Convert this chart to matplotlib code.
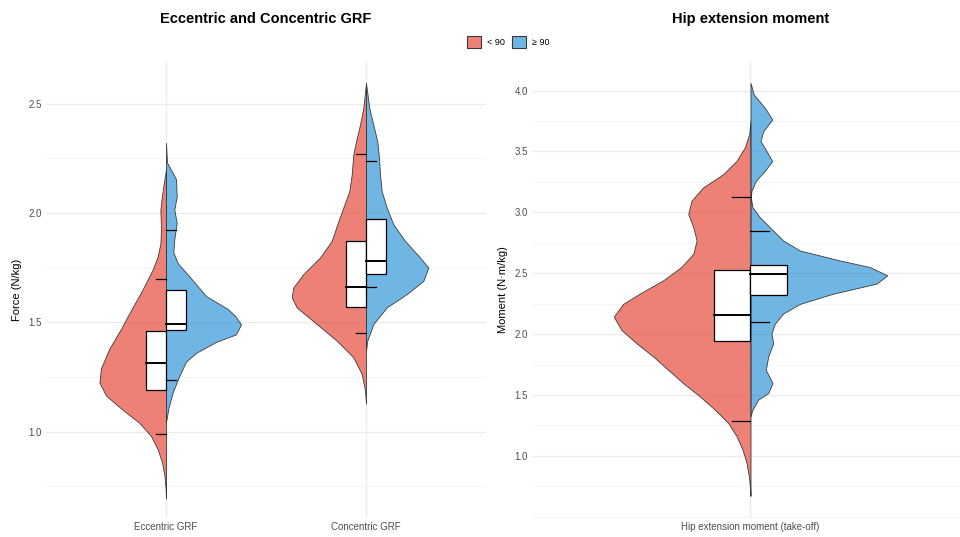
import matplotlib
matplotlib.use("Agg")
import matplotlib.pyplot as plt
from matplotlib.patches import Patch, Rectangle
from matplotlib.ticker import MultipleLocator, FixedLocator
from matplotlib.colors import to_rgba

plt.rcParams['font.family'] = ['Liberation Sans', 'DejaVu Sans']

# --- data (density outlines = half-widths in x units) ---
grf_labels = ['Eccentric GRF', 'Concentric GRF']
hip_labels = ['Hip extension moment (take-off)']

ecc_lo_y = [0.695, 0.74, 0.80, 0.86, 0.92, 0.98, 1.04, 1.10, 1.165, 1.225, 1.29, 1.38,
            1.47, 1.53, 1.65, 1.74, 1.80, 1.86, 1.925, 2.015, 2.08, 2.14, 2.20]
ecc_lo_w = [0, 0.002, 0.008, 0.02, 0.042, 0.075, 0.133, 0.217, 0.30, 0.333, 0.325, 0.283,
            0.225, 0.19, 0.117, 0.067, 0.042, 0.028, 0.025, 0.028, 0.02, 0.01, 0]
ecc_hi_y = [1.045, 1.06, 1.105, 1.18, 1.255, 1.32, 1.36, 1.41, 1.445, 1.49, 1.53, 1.56,
            1.62, 1.71, 1.77, 1.82, 1.88, 1.955, 2.015, 2.075, 2.155, 2.23, 2.32]
ecc_hi_w = [0, 0.0035, 0.0115, 0.0335, 0.0665, 0.10, 0.15, 0.25, 0.35, 0.375, 0.345, 0.31,
            0.20, 0.1165, 0.0585, 0.0365, 0.0415, 0.0535, 0.0415, 0.0535, 0.05, 0.005, 0]

con_lo_y = [1.128, 1.188, 1.264, 1.340, 1.416, 1.492, 1.568, 1.614, 1.659, 1.720, 1.796,
            1.872, 1.948, 2.024, 2.099, 2.175, 2.267, 2.327, 2.403, 2.479, 2.593]
con_lo_w = [0, 0.005, 0.0215, 0.0635, 0.1465, 0.2465, 0.3465, 0.3715, 0.3635, 0.3135, 0.23,
            0.1715, 0.1435, 0.1135, 0.0835, 0.0715, 0.0635, 0.05, 0.03, 0.0135, 0]
con_hi_y = [1.370, 1.416, 1.492, 1.568, 1.629, 1.689, 1.750, 1.796, 1.872, 1.948, 2.024,
            2.099, 2.175, 2.251, 2.327, 2.403, 2.479, 2.593]
con_hi_w = [0, 0.0065, 0.0365, 0.1035, 0.2035, 0.2865, 0.3115, 0.27, 0.195, 0.1365, 0.1035,
            0.0785, 0.07, 0.065, 0.0565, 0.0365, 0.0165, 0]

hip_lo_y = [0.672, 0.726, 0.836, 0.944, 1.053, 1.163, 1.271, 1.380, 1.489, 1.598, 1.707,
            1.816, 1.925, 2.033, 2.143, 2.248, 2.333, 2.442, 2.551, 2.660, 2.769, 2.878,
            2.987, 3.096, 3.205, 3.314, 3.422, 3.532, 3.641, 3.749]
hip_lo_w = [0, 0.0008, 0.0047, 0.011, 0.022, 0.0385, 0.0613, 0.098, 0.139, 0.185, 0.226,
            0.267, 0.313, 0.354, 0.3755, 0.35, 0.304, 0.24, 0.19, 0.157, 0.148, 0.157,
            0.171, 0.162, 0.13, 0.075, 0.0385, 0.0157, 0.0036, 0]
hip_hi_y = [1.326, 1.380, 1.462, 1.516, 1.598, 1.707, 1.816, 1.925, 2.007, 2.085, 2.170,
            2.248, 2.333, 2.415, 2.483, 2.551, 2.605, 2.687, 2.769, 2.850, 2.960, 3.042,
            3.123, 3.177, 3.259, 3.341, 3.422, 3.504, 3.586, 3.667, 3.763, 3.859, 3.967, 4.063]
hip_hi_w = [0, 0.0055, 0.021, 0.0486, 0.0604, 0.042, 0.0486, 0.0624, 0.0577, 0.0668, 0.0898,
            0.1354, 0.2272, 0.3462, 0.3755, 0.3277, 0.2453, 0.1354, 0.0898, 0.0624, 0.0255,
            0.0055, 0.0008, 0.0027, 0.0146, 0.0393, 0.0596, 0.044, 0.0275, 0.0349, 0.0596,
            0.0393, 0.0091, 0]

# box stats: [lower cap, q1, median, q3, upper cap]
ecc_lo_box = [0.988, 1.191, 1.314, 1.459, 1.697]
ecc_hi_box = [1.238, 1.466, 1.492, 1.648, 1.920]
con_lo_box = [1.450, 1.568, 1.662, 1.872, 2.270]
con_hi_box = [1.659, 1.720, 1.778, 1.974, 2.239]
hip_lo_box = [1.284, 1.943, 2.161, 2.525, 3.123]
hip_hi_box = [2.098, 2.325, 2.495, 2.571, 2.850]

grf_ticks = [1.0, 1.5, 2.0, 2.5]
hip_ticks = [1.0, 1.5, 2.0, 2.5, 3.0, 3.5, 4.0]

group_labels = ['< 90', '\u2265 90']
red = to_rgba('#E74C3C', 0.7)
blue = to_rgba('#3498DB', 0.7)
edge = '#3a3a3a'
box_w = 0.1


def half_violin(ax, pos, y, w, side, color):
    if side < 0:
        ax.fill_betweenx(y, [pos - v for v in w], pos, facecolor=color,
                         edgecolor=edge, linewidth=0.6, zorder=2)
    else:
        ax.fill_betweenx(y, pos, [pos + v for v in w], facecolor=color,
                         edgecolor=edge, linewidth=0.6, zorder=2)


def half_box(ax, pos, stats, side):
    lo, q1, med, q3, hi = stats
    x0 = pos - box_w if side < 0 else pos
    ax.add_patch(Rectangle((x0, q1), box_w, q3 - q1, facecolor='white',
                           edgecolor='black', linewidth=0.9, zorder=3))
    ax.plot([x0, x0 + box_w], [med, med], color='black', lw=1.4, zorder=4)
    cx = [pos - box_w / 2, pos] if side < 0 else [pos, pos + box_w / 2]
    for c in (lo, hi):
        ax.plot(cx, [c, c], color='black', lw=0.9, zorder=4)


def style(ax, labels, ticks, ylabel, title):
    ax.set_xticks(range(1, len(labels) + 1))
    ax.set_xticklabels(labels, fontsize=7, color='#4D4D4D')
    ax.yaxis.set_major_locator(FixedLocator(ticks))
    ax.yaxis.set_minor_locator(MultipleLocator(0.25))
    ax.tick_params(axis='both', which='both', length=0, labelsize=7,
                   labelcolor='#4D4D4D', pad=3)
    ax.grid(which='major', color='#EBEBEB', lw=0.9)
    ax.grid(which='minor', axis='y', color='#F2F2F2', lw=0.6)
    ax.set_axisbelow(True)
    for s in ax.spines.values():
        s.set_visible(False)
    ax.set_ylabel(ylabel, fontsize=8, labelpad=5)
    ax.set_title(title, fontsize=10.5, fontweight='bold', pad=28)


fig = plt.figure(figsize=(9.6, 5.37), dpi=100)
ax1 = fig.add_axes([46 / 960, 19 / 537, 440 / 960, 456 / 537])
ax2 = fig.add_axes([532 / 960, 19 / 537, 437 / 960, 456 / 537])

half_violin(ax1, 1, ecc_lo_y, ecc_lo_w, -1, red)
half_violin(ax1, 1, ecc_hi_y, ecc_hi_w, 1, blue)
half_violin(ax1, 2, con_lo_y, con_lo_w, -1, red)
half_violin(ax1, 2, con_hi_y, con_hi_w, 1, blue)
half_box(ax1, 1, ecc_lo_box, -1)
half_box(ax1, 1, ecc_hi_box, 1)
half_box(ax1, 2, con_lo_box, -1)
half_box(ax1, 2, con_hi_box, 1)
ax1.set_xlim(0.4, 2.6)
ax1.set_ylim(0.605, 2.69)
style(ax1, grf_labels, grf_ticks, 'Force (N/kg)', 'Eccentric and Concentric GRF')

half_violin(ax2, 1, hip_lo_y, hip_lo_w, -1, red)
half_violin(ax2, 1, hip_hi_y, hip_hi_w, 1, blue)
half_box(ax2, 1, hip_lo_box, -1)
half_box(ax2, 1, hip_hi_box, 1)
ax2.set_xlim(0.4, 1.6)
ax2.set_ylim(0.49, 4.235)
style(ax2, hip_labels, hip_ticks, 'Moment (N\u00b7m/kg)', 'Hip extension moment')

handles = [Patch(facecolor=red, edgecolor=edge, lw=0.8, label=group_labels[0]),
           Patch(facecolor=blue, edgecolor=edge, lw=0.8, label=group_labels[1])]
fig.legend(handles=handles, loc='center', bbox_to_anchor=(508 / 960, 1 - 42 / 537),
           ncol=2, frameon=False, fontsize=6.5, handlelength=1.6, handleheight=1.6,
           handletextpad=0.6, columnspacing=0.8)

fig.savefig('out.png', dpi=100, facecolor='white')
